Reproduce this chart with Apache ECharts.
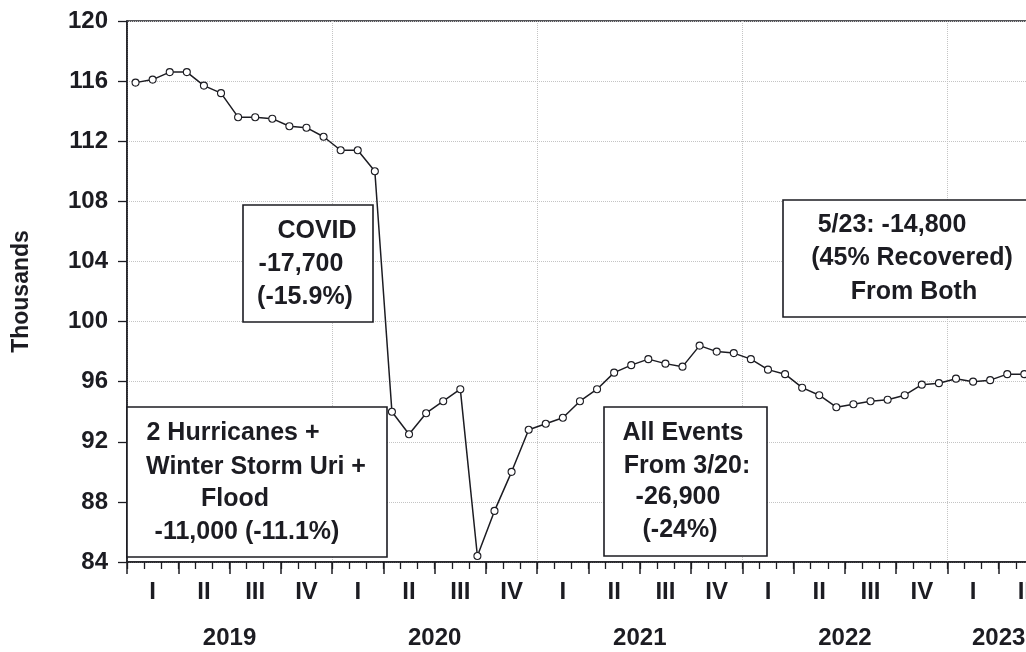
<!DOCTYPE html>
<html>
<head>
<meta charset="utf-8">
<script src="https://cdn.jsdelivr.net/npm/echarts@6/dist/echarts.min.js"></script>
<style>
  html, body { margin: 0; padding: 0; background: #fff; }
  #chart { width: 1026px; height: 652px; }
</style>
</head>
<body>
<div id="chart"></div>
<script>
// Monthly series, Jan 2019 .. May 2023 (thousands)
const months = [
  '2019-01','2019-02','2019-03','2019-04','2019-05','2019-06','2019-07','2019-08','2019-09','2019-10','2019-11','2019-12',
  '2020-01','2020-02','2020-03','2020-04','2020-05','2020-06','2020-07','2020-08','2020-09','2020-10','2020-11','2020-12',
  '2021-01','2021-02','2021-03','2021-04','2021-05','2021-06','2021-07','2021-08','2021-09','2021-10','2021-11','2021-12',
  '2022-01','2022-02','2022-03','2022-04','2022-05','2022-06','2022-07','2022-08','2022-09','2022-10','2022-11','2022-12',
  '2023-01','2023-02','2023-03','2023-04','2023-05'
];
const values = [
  115.9, 116.1, 116.6, 116.6, 115.7, 115.2, 113.6, 113.6, 113.5, 113.0, 112.9, 112.3,
  111.4, 111.4, 110.0, 94.0, 92.5, 93.9, 94.7, 95.5, 84.4, 87.4, 90.0, 92.8,
  93.2, 93.6, 94.7, 95.5, 96.6, 97.1, 97.5, 97.2, 97.0, 98.4, 98.0, 97.9,
  97.5, 96.8, 96.5, 95.6, 95.1, 94.3, 94.5, 94.7, 94.8, 95.1, 95.8, 95.9,
  96.2, 96.0, 96.1, 96.5, 96.5
];
const axisMonths = 54;                  // axis runs through June 2023
const quarterLabels = ['I', 'II', 'III', 'IV'];
const yearLabels = ['2019', '2020', '2021', '2022', '2023'];
const yearLabelPos = [6, 18, 30, 42, 51];  // month offsets where year labels sit

const FONT = '"Liberation Sans", Arial, sans-serif';
const INK = '#1c1c22';

const chart = echarts.init(document.getElementById('chart'), null, { renderer: 'canvas' });

const noLine = { show: false };
const baseX = { type: 'value', min: 0, max: axisMonths, position: 'bottom' };

function box(x, y, w, h) {
  return {
    type: 'rect', z: 5,
    shape: { x, y, width: w, height: h },
    style: { fill: '#fff', stroke: INK, lineWidth: 1.6 }
  };
}
function label(text, x, y) {
  return {
    type: 'text', z: 6,
    style: {
      text, x, y, fill: INK, align: 'center', verticalAlign: 'middle',
      font: 'bold 25px ' + FONT
    }
  };
}

chart.setOption({
  animation: false,
  backgroundColor: '#fff',
  grid: {
    left: 127, top: 21, width: 923, bottom: 90,
    outerBoundsMode: 'none', containLabel: false,
    show: true, borderColor: INK, borderWidth: 1.5, backgroundColor: 'transparent'
  },
  xAxis: [
    // month ticks + axis line
    Object.assign({}, baseX, {
      interval: 1,
      axisLine: { show: true, lineStyle: { color: INK, width: 1.5 } },
      axisTick: { show: true, length: 7, lineStyle: { color: INK, width: 1.3 } },
      axisLabel: { show: false },
      splitLine: noLine
    }),
    // quarter ticks
    Object.assign({}, baseX, {
      interval: 3,
      axisLine: noLine,
      axisTick: { show: true, length: 12, lineStyle: { color: INK, width: 1.5 } },
      axisLabel: { show: false },
      splitLine: noLine
    }),
    // quarter labels
    Object.assign({}, baseX, {
      interval: 1.5,
      axisLine: noLine, axisTick: noLine, splitLine: noLine,
      axisLabel: {
        show: true, margin: 18, color: INK, fontFamily: FONT, fontWeight: 'bold', fontSize: 24,
        formatter: v => {
          const k = Math.round(v / 1.5);
          return k % 2 === 1 ? quarterLabels[((k - 1) / 2) % 4] : '';
        }
      }
    }),
    // year labels
    Object.assign({}, baseX, {
      interval: 3,
      axisLine: noLine, axisTick: noLine, splitLine: noLine,
      axisLabel: {
        show: true, margin: 64, color: INK, fontFamily: FONT, fontWeight: 'bold', fontSize: 24,
        formatter: v => {
          const i = yearLabelPos.indexOf(Math.round(v));
          return i >= 0 ? yearLabels[i] : '';
        }
      }
    }),
    // year grid lines
    Object.assign({}, baseX, {
      interval: 12,
      axisLine: noLine, axisTick: noLine, axisLabel: { show: false },
      splitLine: { show: true, lineStyle: { color: '#c4c4c4', type: 'dotted', width: 1 } }
    })
  ],
  yAxis: {
    type: 'value', min: 84, max: 120, interval: 4,
    name: 'Thousands', nameLocation: 'middle', nameGap: 94,
    nameTextStyle: { color: INK, fontFamily: FONT, fontWeight: 'bold', fontSize: 23 },
    axisLine: { show: true, lineStyle: { color: INK, width: 1.5 } },
    axisTick: { show: true, length: 9, lineStyle: { color: INK, width: 1.3 } },
    axisLabel: { margin: 19, color: INK, fontFamily: FONT, fontWeight: 'bold', fontSize: 24 },
    splitLine: { show: true, lineStyle: { color: '#c4c4c4', type: 'dotted', width: 1 } }
  },
  series: [{
    type: 'line',
    xAxisIndex: 0,
    data: values.map((v, i) => [i + 0.5, v]),
    symbol: 'circle', symbolSize: 7,
    showAllSymbol: true,
    lineStyle: { color: INK, width: 1.5 },
    itemStyle: { color: '#fff', borderColor: INK, borderWidth: 1.1 },
    z: 10
  }],
  graphic: [
    box(127, 407, 260, 150),
    label('2 Hurricanes +', 233, 433),
    label('Winter Storm Uri +', 256, 467),
    label('Flood', 235, 499),
    label('-11,000 (-11.1%)', 247, 532),

    box(243, 205, 130, 117),
    label('COVID', 317, 231),
    label('-17,700', 301, 264),
    label('(-15.9%)', 305, 297),

    box(604, 407, 163, 149),
    label('All Events', 683, 433),
    label('From 3/20:', 687, 466),
    label('-26,900', 678, 497),
    label('(-24%)', 680, 530),

    box(783, 200, 262, 117),
    label('5/23: -14,800', 892, 225),
    label('(45% Recovered)', 912, 258),
    label('From Both', 914, 292)
  ]
});
</script>
</body>
</html>
